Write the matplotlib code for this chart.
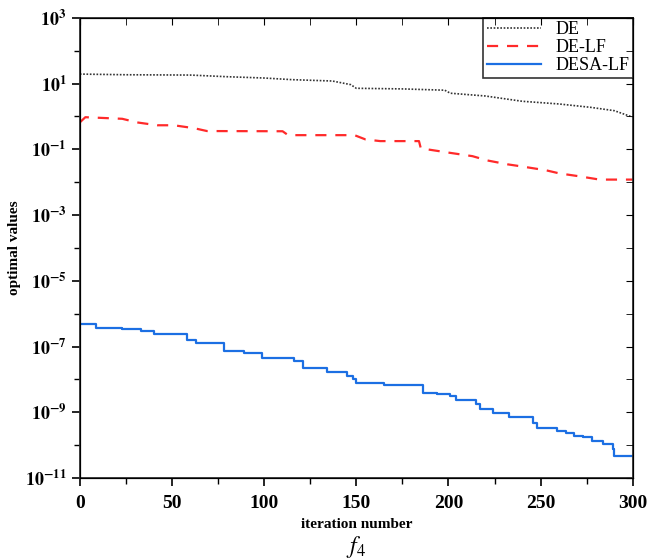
import matplotlib
matplotlib.use('Agg')
import matplotlib.pyplot as plt
from matplotlib.ticker import FixedLocator, NullFormatter

plt.rcParams['font.family'] = ['Liberation Serif', 'DejaVu Serif']
plt.rcParams['mathtext.fontset'] = 'stix'

# DE (dotted)
de_iter = [0, 25, 60, 80, 100, 115, 137, 147, 150, 175, 198, 201, 220, 240, 260, 277, 290, 300]
de_val = [19.5, 18.6, 18.2, 16.2, 14.8, 13.2, 12.0, 9.3, 7.2, 6.9, 6.3, 5.1, 4.2, 2.9, 2.4, 1.9, 1.5, 0.95]

# DE-LF (dashed)
delf_iter = [0, 3, 23, 31, 42, 51, 62, 69, 110, 113, 149, 155, 163, 184, 185, 201, 213, 221,
             232, 240, 253, 260, 271, 282, 300]
delf_val = [0.66, 0.95, 0.85, 0.66, 0.54, 0.54, 0.44, 0.36, 0.355, 0.27, 0.27, 0.20, 0.178,
            0.178, 0.107, 0.078, 0.062, 0.046, 0.035, 0.030, 0.023, 0.0186, 0.0151, 0.0120, 0.0120]

# DESA-LF (solid, stepwise)
desa_iter = [0, 9, 23, 33, 40, 58, 63, 78, 89, 99, 116, 121, 134, 145, 148, 150, 165, 186, 194,
             201, 204, 215, 217, 224, 233, 246, 248, 259, 264, 268, 273, 278, 284, 289, 290, 300]
desa_val = [5.0e-7, 3.7e-7, 3.4e-7, 2.95e-7, 2.4e-7, 1.58e-7, 1.29e-7, 7.2e-8, 6.5e-8, 4.6e-8,
            3.6e-8, 2.24e-8, 1.7e-8, 1.26e-8, 1.05e-8, 7.9e-9, 6.6e-9, 3.9e-9, 3.5e-9, 3.1e-9,
            2.3e-9, 1.78e-9, 1.29e-9, 9.5e-10, 7.1e-10, 4.7e-10, 3.2e-10, 2.6e-10, 2.3e-10,
            1.86e-10, 1.74e-10, 1.35e-10, 1.1e-10, 7.8e-11, 4.6e-11, 4.6e-11]

xticks = [0, 50, 100, 150, 200, 250, 300]
xminor = [25, 75, 125, 175, 225, 275]
ymajor = [10.0 ** k for k in range(-11, 4, 2)]
yminor = [10.0 ** k for k in range(-10, 3, 2)]

fig = plt.figure(figsize=(6.49, 5.59), dpi=100)
ax = fig.add_axes([0.123, 0.145, 0.852, 0.823])

ax.plot(de_iter, de_val, color='#333333', linestyle=(0, (1, 1)), linewidth=1.2, label='DE')
ax.plot(delf_iter, delf_val, color='#ff2a2a', linestyle=(0, (5, 4)), linewidth=1.6, label='DE-LF')
ax.plot(desa_iter, desa_val, color='#1c6fe3', linewidth=1.6, drawstyle='steps-post', label='DESA-LF')

ax.set_yscale('log')
ax.set_xlim(0, 300)
ax.set_ylim(1e-11, 1e3)
ax.set_xticks(xticks)
ax.xaxis.set_minor_locator(FixedLocator(xminor))
ax.yaxis.set_major_locator(FixedLocator(ymajor))
ax.yaxis.set_minor_locator(FixedLocator(yminor))
ax.yaxis.set_minor_formatter(NullFormatter())
ax.set_yticklabels(['$\\mathbf{10^{%d}}$' % k for k in range(-11, 4, 2)])

ax.tick_params(axis='both', which='major', labelsize=13, length=6, width=1.2, direction='out')
ax.tick_params(axis='x', which='major', labelsize=14, pad=6)
ax.tick_params(axis='both', which='minor', length=4, width=1.0, direction='out')
for lab in ax.get_xticklabels():
    lab.set_fontweight('bold')
for s in ax.spines.values():
    s.set_linewidth(1.3)
    s.set_color('#333333')

# inward ticks on top and right
ax2 = ax.twinx()
ax2.set_yscale('log')
ax2.set_ylim(1e-11, 1e3)
ax2.yaxis.set_major_locator(FixedLocator(ymajor))
ax2.yaxis.set_minor_locator(FixedLocator(yminor))
ax2.tick_params(axis='y', which='both', direction='in', labelright=False, length=5)
ax3 = ax.twiny()
ax3.set_xlim(0, 300)
ax3.set_xticks(xticks)
ax3.xaxis.set_minor_locator(FixedLocator(xminor))
ax3.tick_params(axis='x', which='both', direction='in', labeltop=False, length=5)

ax.set_xlabel('iteration number', fontsize=11, fontweight='bold')
ax.xaxis.set_label_coords(0.5, -0.086)
ax.set_ylabel('optimal values', fontsize=11, fontweight='bold')
ax.yaxis.set_label_coords(-0.106, 0.5)

fig.text(0.548, 0.022, '$f_4$', fontsize=17, ha='center', va='center')

leg = ax.legend(loc='upper right', fontsize=13, frameon=True, fancybox=False,
                borderaxespad=0, handlelength=3.0, borderpad=0.2, labelspacing=0.05)
leg.get_frame().set_edgecolor('black')
leg.get_frame().set_linewidth(1.2)
leg.set_zorder(5)

fig.savefig('out.png', dpi=100)
